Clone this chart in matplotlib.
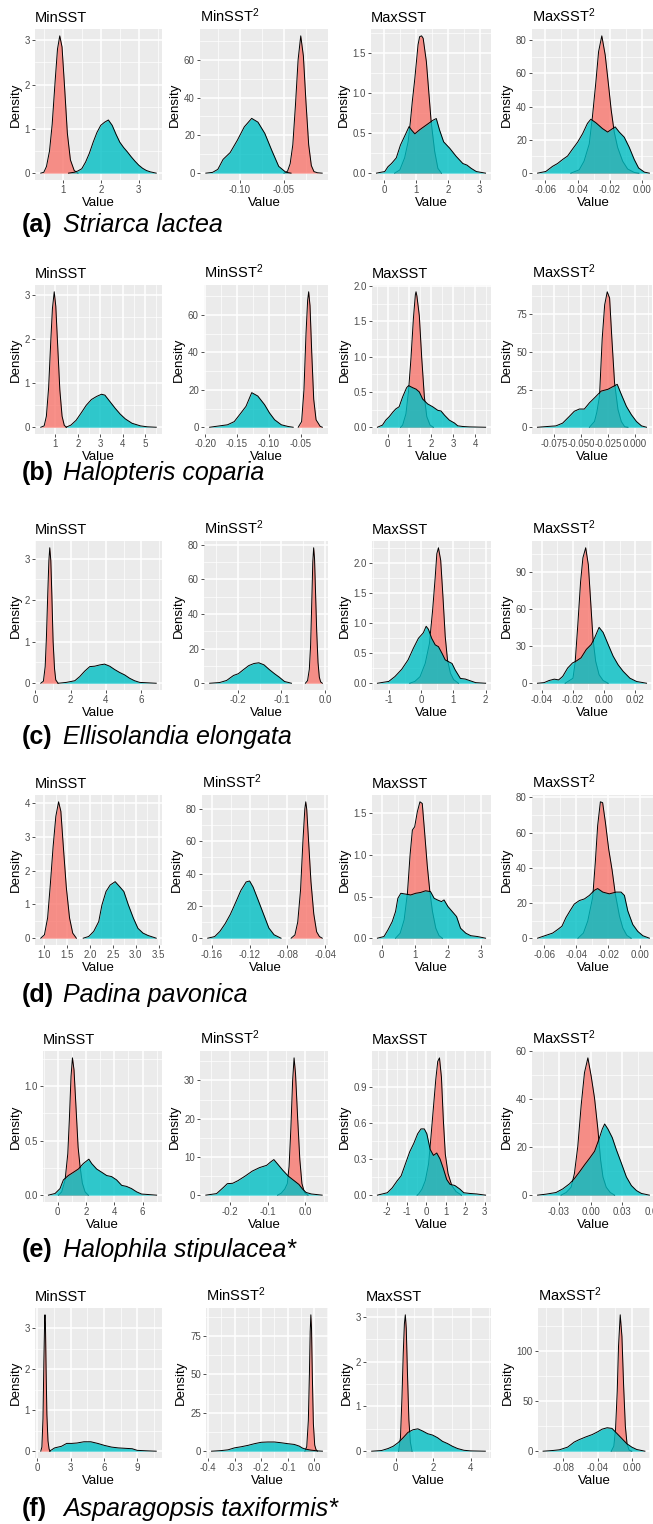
import matplotlib
matplotlib.use('Agg')
import matplotlib.pyplot as plt
from matplotlib.ticker import AutoMinorLocator

plt.rcParams['font.family'] = ['Liberation Sans', 'DejaVu Sans']
plt.rcParams['mathtext.default'] = 'regular'

#-----------------------------------------------------------------------------#
# data

LETTERS = ['a', 'b', 'c', 'd', 'e', 'f']
SPECIES = ['Striarca lactea', 'Halopteris coparia', 'Ellisolandia elongata',
           'Padina pavonica', 'Halophila stipulacea*', 'Asparagopsis taxiformis*']
VARIABLES = ['MinSST', 'MinSST$^{2}$', 'MaxSST', 'MaxSST$^{2}$']

# (a) Striarca lactea
XTICKS_A = [[1, 2, 3], [-0.10, -0.05], [0, 1, 2, 3], [-0.06, -0.04, -0.02, 0.00]]
YTICKS_A = [[0, 1, 2, 3], [0, 20, 40, 60], [0.0, 0.5, 1.0, 1.5], [0, 20, 40, 60, 80]]
RED_A = [
    [(0.42, 0), (0.50, 0.02), (0.57, 0.15), (0.65, 0.5), (0.72, 1.1), (0.80, 2.1),
     (0.86, 2.8), (0.92, 3.1), (0.98, 2.85), (1.05, 1.9), (1.12, 0.9), (1.20, 0.3),
     (1.30, 0.06), (1.40, 0)],
    [(-0.050, 0), (-0.046, 1), (-0.043, 5), (-0.040, 15), (-0.037, 36), (-0.034, 60),
     (-0.031, 72.7), (-0.028, 62), (-0.025, 37), (-0.022, 15), (-0.019, 4),
     (-0.016, 0.8), (-0.012, 0.2), (-0.0067, 0)],
    [(0.34, 0), (0.5, 0.04), (0.65, 0.19), (0.76, 0.39), (0.83, 0.64), (0.89, 0.89),
     (0.97, 1.18), (1.07, 1.6), (1.12, 1.70), (1.18, 1.71), (1.23, 1.68), (1.33, 1.39),
     (1.43, 0.89), (1.48, 0.64), (1.59, 0.27), (1.69, 0.06), (1.8, 0)],
    [(-0.0442, 0), (-0.039, 2), (-0.036, 7.2), (-0.0328, 17.5), (-0.0308, 34),
     (-0.0287, 54.6), (-0.027, 73), (-0.025, 82.5), (-0.0229, 71), (-0.0208, 52.6),
     (-0.0192, 38), (-0.0173, 24.7), (-0.0152, 15.5), (-0.0121, 7.2), (-0.009, 2.5),
     (-0.0049, 0.4), (-0.002, 0)],
]
CYAN_A = [
    [(1.15, 0), (1.3, 0.02), (1.4, 0.05), (1.5, 0.1), (1.6, 0.25), (1.7, 0.45),
     (1.8, 0.7), (1.9, 0.92), (2.0, 1.08), (2.1, 1.15), (2.2, 1.2), (2.3, 1.08),
     (2.4, 0.88), (2.5, 0.7), (2.6, 0.58), (2.7, 0.48), (2.8, 0.37), (2.9, 0.27),
     (3.0, 0.18), (3.1, 0.11), (3.2, 0.06), (3.3, 0.03), (3.46, 0)],
    [(-0.1386, 0), (-0.131, 0.4), (-0.125, 2), (-0.119, 7.3), (-0.111, 10.9),
     (-0.103, 17.3), (-0.095, 24.5), (-0.0866, 29), (-0.0795, 27), (-0.0717, 21),
     (-0.0638, 12), (-0.056, 3.6), (-0.048, 0.5), (-0.042, 0)],
    [(-0.23, 0), (0.03, 0.02), (0.13, 0.08), (0.24, 0.12), (0.39, 0.19), (0.52, 0.35),
     (0.65, 0.46), (0.79, 0.58), (0.86, 0.54), (0.97, 0.49), (1.12, 0.54), (1.33, 0.60),
     (1.54, 0.66), (1.64, 0.68), (1.74, 0.54), (1.87, 0.39), (2.06, 0.31), (2.26, 0.21),
     (2.47, 0.12), (2.6, 0.10), (2.73, 0.06), (2.89, 0.02), (3.18, 0)],
    [(-0.0648, 0), (-0.0597, 1), (-0.0555, 4.1), (-0.0524, 5.8), (-0.0493, 8.2),
     (-0.0462, 10.3), (-0.0432, 14.4), (-0.04, 18.6), (-0.0369, 23.7), (-0.0339, 29.9),
     (-0.0318, 32.4), (-0.0287, 30.3), (-0.0246, 26.8), (-0.0214, 24.7), (-0.0183, 26.8),
     (-0.0167, 27.8), (-0.0142, 24.7), (-0.0111, 21.6), (-0.008, 15.5), (-0.0049, 8.2),
     (-0.0022, 3.1), (0.0014, 0.6), (0.0045, 0)],
]

# (b) Halopteris coparia
XTICKS_B = [[1, 2, 3, 4, 5], [-0.20, -0.15, -0.10, -0.05], [0, 1, 2, 3, 4],
            [-0.075, -0.050, -0.025, 0.000]]
YTICKS_B = [[0, 1, 2, 3], [0, 20, 40, 60], [0.0, 0.5, 1.0, 1.5, 2.0], [0, 25, 50, 75]]
RED_B = [
    [(0.35, 0), (0.5, 0.03), (0.6, 0.25), (0.7, 0.9), (0.8, 2.0), (0.87, 2.7),
     (0.95, 3.08), (1.02, 2.75), (1.1, 1.9), (1.2, 0.85), (1.3, 0.25), (1.4, 0.04),
     (1.5, 0)],
    [(-0.0539, 0), (-0.0486, 3), (-0.0449, 20), (-0.0417, 50), (-0.0391, 68),
     (-0.0375, 72.5), (-0.0354, 65), (-0.0327, 40), (-0.0296, 15), (-0.0259, 4),
     (-0.0195, 0.5), (-0.016, 0)],
    [(0.6, 0), (0.69, 0.03), (0.84, 0.19), (0.96, 0.52), (1.07, 0.98), (1.18, 1.54),
     (1.27, 1.88), (1.30, 1.92), (1.34, 1.86), (1.45, 1.58), (1.56, 0.98), (1.68, 0.43),
     (1.79, 0.15), (1.94, 0.03), (2.09, 0)],
    [(-0.0422, 0), (-0.0375, 3.8), (-0.0353, 10), (-0.0328, 20.7), (-0.0303, 58.9),
     (-0.028, 81.3), (-0.0256, 90), (-0.0234, 85.8), (-0.0213, 58.9), (-0.0188, 29.6),
     (-0.0156, 11.7), (-0.0125, 3.8), (-0.0094, 0.4), (-0.0063, 0)],
]
CYAN_B = [
    [(1.48, 0), (1.7, 0.05), (1.93, 0.16), (2.16, 0.33), (2.38, 0.5), (2.61, 0.63),
     (2.84, 0.7), (3.06, 0.75), (3.21, 0.73), (3.44, 0.58), (3.67, 0.43), (3.89, 0.30),
     (4.12, 0.19), (4.42, 0.09), (4.8, 0.03), (5.1, 0.01), (5.5, 0)],
    [(-0.193, 0), (-0.165, 1.3), (-0.1544, 3), (-0.1439, 7.6), (-0.1359, 11.2),
     (-0.1269, 18.5), (-0.1174, 16.7), (-0.1068, 12.1), (-0.0989, 7.6), (-0.091, 4),
     (-0.0804, 1.3), (-0.0698, 0.4), (-0.0618, 0)],
    [(-0.46, 0), (-0.23, 0.03), (-0.08, 0.10), (0.08, 0.15), (0.26, 0.22), (0.38, 0.26),
     (0.53, 0.29), (0.69, 0.43), (0.87, 0.56), (0.96, 0.59), (1.15, 0.56), (1.3, 0.54),
     (1.45, 0.50), (1.6, 0.40), (1.83, 0.33), (2.06, 0.29), (2.29, 0.24), (2.44, 0.23),
     (2.6, 0.17), (2.82, 0.10), (3.05, 0.06), (3.2, 0.02), (3.44, 0.01), (3.74, 0.005),
     (4.47, 0)],
    [(-0.0906, 0), (-0.0734, 0.9), (-0.0672, 2.7), (-0.0609, 7.2), (-0.0563, 10.6),
     (-0.0516, 12.1), (-0.0469, 12.1), (-0.0422, 16.2), (-0.0375, 19.5), (-0.0313, 24),
     (-0.025, 25.2), (-0.0203, 27), (-0.0163, 28.5), (-0.0125, 21.8), (-0.0078, 13.9),
     (-0.0031, 8.3), (0.0016, 3.8), (0.0063, 0.9), (0.011, 0)],
]

# (c) Ellisolandia elongata
XTICKS_C = [[0, 2, 4, 6], [-0.2, -0.1, 0.0], [-1, 0, 1, 2], [-0.04, -0.02, 0.00, 0.02]]
YTICKS_C = [[0, 1, 2, 3], [0, 20, 40, 60, 80], [0.0, 0.5, 1.0, 1.5, 2.0], [0, 30, 60, 90]]
RED_C = [
    [(0.3, 0), (0.45, 0.05), (0.55, 0.4), (0.62, 1.1), (0.7, 2.2), (0.76, 2.95),
     (0.81, 3.26), (0.87, 2.95), (0.93, 2.1), (1.0, 1.0), (1.08, 0.35), (1.15, 0.08),
     (1.28, 0)],
    [(-0.045, 0), (-0.040, 1.5), (-0.036, 8), (-0.033, 22), (-0.030, 50), (-0.028, 70),
     (-0.026, 78.2), (-0.024, 72), (-0.022, 55), (-0.019, 30), (-0.016, 12),
     (-0.013, 3.5), (-0.010, 0.8), (-0.006, 0)],
    [(-0.35, 0), (-0.19, 0.03), (-0.03, 0.11), (0.13, 0.33), (0.26, 0.66), (0.36, 1.22),
     (0.44, 1.77), (0.49, 2.16), (0.54, 2.26), (0.61, 2.05), (0.68, 1.44), (0.75, 0.78),
     (0.82, 0.39), (0.91, 0.17), (1.01, 0.06), (1.16, 0)],
    [(-0.025, 0), (-0.02, 4), (-0.0186, 16.5), (-0.0169, 46.7), (-0.0151, 82),
     (-0.0136, 101.6), (-0.0118, 109.8), (-0.0101, 96), (-0.0086, 66), (-0.0071, 35.7),
     (-0.0054, 17.8), (-0.0032, 6.9), (-0.0006, 2.2), (0.0026, 0)],
]
CYAN_C = [
    [(1.28, 0), (1.75, 0.02), (2.23, 0.06), (2.51, 0.16), (2.79, 0.29), (3.08, 0.40),
     (3.36, 0.41), (3.64, 0.44), (3.92, 0.46), (4.21, 0.41), (4.49, 0.33), (4.77, 0.26),
     (5.06, 0.20), (5.34, 0.12), (5.62, 0.06), (5.91, 0.02), (6.85, 0)],
    [(-0.265, 0), (-0.242, 0.4), (-0.226, 1.6), (-0.21, 4.5), (-0.199, 5.5),
     (-0.187, 7.9), (-0.175, 10.2), (-0.163, 11.4), (-0.152, 11.8), (-0.14, 10.6),
     (-0.128, 7.9), (-0.116, 5.5), (-0.105, 3.5), (-0.093, 1), (-0.077, 0)],
    [(-1.35, 0), (-1.0, 0.03), (-0.81, 0.11), (-0.6, 0.23), (-0.4, 0.39), (-0.24, 0.58),
     (-0.08, 0.75), (0.07, 0.84), (0.16, 0.95), (0.23, 0.90), (0.33, 0.75), (0.44, 0.64),
     (0.54, 0.61), (0.65, 0.50), (0.75, 0.39), (0.85, 0.36), (0.96, 0.33), (1.06, 0.22),
     (1.22, 0.08), (1.37, 0.07), (1.53, 0.04), (1.69, 0.01), (2.0, 0)],
    [(-0.0428, 0), (-0.0385, 0.5), (-0.0353, 2.2), (-0.032, 3.3), (-0.0292, 2.7),
     (-0.0266, 5.5), (-0.0234, 12.3), (-0.0202, 16.5), (-0.0181, 17.8), (-0.0148, 20.6),
     (-0.0114, 27.4), (-0.0082, 31.5), (-0.006, 37), (-0.0032, 45.3), (-0.0006, 41.2),
     (0.0026, 31.5), (0.0058, 22), (0.009, 15), (0.0123, 9.6), (0.0166, 4.1),
     (0.0209, 1.4), (0.0273, 0)],
]

# (d) Padina pavonica
XTICKS_D = [[1.0, 1.5, 2.0, 2.5, 3.0, 3.5], [-0.16, -0.12, -0.08, -0.04], [0, 1, 2, 3],
            [-0.06, -0.04, -0.02, 0.00]]
YTICKS_D = [[0, 1, 2, 3, 4], [0, 20, 40, 60, 80], [0.0, 0.5, 1.0, 1.5], [0, 20, 40, 60, 80]]
RED_D = [
    [(0.92, 0), (1.0, 0.1), (1.07, 0.6), (1.13, 1.6), (1.19, 2.7), (1.25, 3.6),
     (1.31, 4.03), (1.36, 3.75), (1.42, 2.6), (1.48, 1.5), (1.55, 0.6), (1.62, 0.15),
     (1.7, 0)],
    [(-0.076, 0), (-0.072, 2), (-0.069, 10), (-0.066, 30), (-0.0635, 60), (-0.0615, 80),
     (-0.0605, 84.4), (-0.0595, 80), (-0.057, 55), (-0.055, 35), (-0.052, 15),
     (-0.049, 4), (-0.046, 1), (-0.043, 0)],
    [(0.42, 0), (0.56, 0.06), (0.68, 0.22), (0.78, 0.54), (0.86, 1.0), (0.93, 1.3),
     (1.0, 1.34), (1.08, 1.52), (1.16, 1.64), (1.23, 1.62), (1.3, 1.28), (1.38, 0.88),
     (1.46, 0.56), (1.54, 0.32), (1.64, 0.12), (1.74, 0.03), (1.84, 0)],
    [(-0.039, 0), (-0.0356, 2.9), (-0.0329, 9.7), (-0.0298, 23.3), (-0.0282, 42.7),
     (-0.0267, 64), (-0.025, 77.5), (-0.0236, 77), (-0.0219, 66), (-0.0198, 50.5),
     (-0.0177, 38.8), (-0.0157, 25.2), (-0.0131, 12.6), (-0.011, 5.8), (-0.0085, 1.6),
     (-0.0058, 0)],
]
CYAN_D = [
    [(1.85, 0), (1.97, 0.05), (2.08, 0.2), (2.19, 0.49), (2.26, 0.98), (2.35, 1.38),
     (2.44, 1.57), (2.55, 1.67), (2.65, 1.52), (2.74, 1.38), (2.84, 0.98), (2.95, 0.59),
     (3.05, 0.29), (3.16, 0.15), (3.27, 0.08), (3.45, 0)],
    [(-0.1644, 0), (-0.157, 1), (-0.1515, 4.2), (-0.146, 8.9), (-0.1404, 14.8),
     (-0.1348, 22.1), (-0.1293, 29.5), (-0.1237, 34.8), (-0.12, 35.4), (-0.1163, 31.6),
     (-0.1107, 23.2), (-0.1052, 14.8), (-0.0996, 6.3), (-0.0941, 2.1), (-0.0867, 0)],
    [(-0.13, 0), (0.07, 0.02), (0.19, 0.10), (0.32, 0.20), (0.42, 0.32), (0.49, 0.48),
     (0.58, 0.54), (0.73, 0.53), (0.88, 0.52), (1.03, 0.54), (1.18, 0.55), (1.33, 0.57),
     (1.48, 0.56), (1.59, 0.48), (1.69, 0.46), (1.81, 0.44), (1.89, 0.46), (2.01, 0.38),
     (2.14, 0.32), (2.27, 0.26), (2.39, 0.12), (2.55, 0.06), (2.7, 0.03), (2.9, 0.02),
     (3.15, 0)],
    [(-0.0642, 0), (-0.059, 1.6), (-0.0548, 2.9), (-0.0517, 4.9), (-0.049, 6.8),
     (-0.0465, 11.7), (-0.044, 15.5), (-0.0413, 19.4), (-0.0381, 21.4), (-0.035, 22.3),
     (-0.0319, 24.3), (-0.0288, 27.2), (-0.0267, 28.2), (-0.0235, 26.2), (-0.0194, 25.2),
     (-0.0152, 26.2), (-0.0121, 26.2), (-0.01, 24.3), (-0.0079, 15.5), (-0.0048, 7.8),
     (-0.0017, 3.9), (0.0015, 1.4), (0.0056, 0)],
]

# (e) Halophila stipulacea*
XTICKS_E = [[0, 2, 4, 6], [-0.2, -0.1, 0.0], [-2, -1, 0, 1, 2, 3], [-0.03, 0.00, 0.03, 0.06]]
YTICKS_E = [[0.0, 0.5, 1.0], [0, 10, 20, 30], [0.0, 0.3, 0.6, 0.9], [0, 20, 40, 60]]
RED_E = [
    [(0.05, 0), (0.28, 0.03), (0.52, 0.14), (0.71, 0.38), (0.82, 0.69), (0.94, 1.09),
     (1.04, 1.26), (1.15, 1.15), (1.29, 0.81), (1.44, 0.44), (1.58, 0.26), (1.74, 0.11),
     (1.93, 0.03), (2.16, 0)],
    [(-0.0735, 0), (-0.064, 0.5), (-0.0545, 1.6), (-0.0479, 3), (-0.0431, 7.5),
     (-0.0384, 17.4), (-0.0337, 30), (-0.0299, 35.9), (-0.0261, 31.8), (-0.0204, 20.1),
     (-0.0147, 9.3), (-0.0091, 3), (-0.0024, 0.7), (0.007, 0)],
    [(-0.47, 0), (-0.39, 0.01), (-0.22, 0.05), (-0.05, 0.12), (0.12, 0.26), (0.24, 0.48),
     (0.37, 0.73), (0.49, 0.96), (0.59, 1.11), (0.68, 1.14), (0.78, 0.98), (0.88, 0.62),
     (0.98, 0.34), (1.12, 0.18), (1.31, 0.08), (1.53, 0.03), (1.81, 0)],
    [(-0.0278, 0), (-0.023, 1.1), (-0.0183, 3.3), (-0.0152, 9), (-0.012, 20.4),
     (-0.0088, 37.6), (-0.0057, 51.1), (-0.0025, 57.3), (0.0006, 49.7), (0.0038, 40.4),
     (0.0069, 27.6), (0.0095, 14.7), (0.0117, 7.6), (0.0148, 3.3), (0.0186, 1.1),
     (0.0227, 0)],
]
CYAN_E = [
    [(-0.66, 0), (-0.19, 0.015), (0.16, 0.06), (0.4, 0.14), (0.75, 0.18), (1.11, 0.21),
     (1.46, 0.24), (1.81, 0.29), (2.2, 0.33), (2.4, 0.29), (2.75, 0.24), (3.11, 0.21),
     (3.46, 0.18), (3.81, 0.17), (4.16, 0.14), (4.52, 0.09), (4.87, 0.08), (5.22, 0.06),
     (5.58, 0.03), (5.93, 0.01), (6.99, 0)],
    [(-0.2635, 0), (-0.235, 0.4), (-0.216, 2.1), (-0.2066, 3), (-0.1924, 3.1),
     (-0.1782, 3.8), (-0.1592, 5), (-0.1403, 6.3), (-0.1213, 7.2), (-0.1024, 7.8),
     (-0.0929, 8.6), (-0.0834, 9.3), (-0.074, 8.2), (-0.0597, 6.5), (-0.0455, 5.0),
     (-0.0313, 3.9), (-0.0171, 2.8), (-0.0076, 1.6), (0.0019, 0.7), (0.016, 0.3),
     (0.0445, 0)],
    [(-2.51, 0), (-2.0, 0.02), (-1.75, 0.06), (-1.49, 0.12), (-1.29, 0.16), (-1.07, 0.26),
     (-0.85, 0.36), (-0.64, 0.43), (-0.44, 0.51), (-0.27, 0.55), (-0.1, 0.55),
     (0.03, 0.51), (0.2, 0.38), (0.37, 0.33), (0.54, 0.35), (0.71, 0.30), (0.88, 0.22),
     (1.05, 0.13), (1.22, 0.09), (1.47, 0.08), (1.73, 0.05), (1.93, 0.02), (2.24, 0.014),
     (2.58, 0.01), (3.05, 0)],
    [(-0.0499, 0), (-0.042, 0.4), (-0.0325, 1.1), (-0.0262, 2.6), (-0.0199, 4.7),
     (-0.0152, 6.9), (-0.0104, 9.7), (-0.0057, 12.6), (-0.0009, 15.4), (0.0038, 18.3),
     (0.0079, 23.3), (0.0111, 27.6), (0.0133, 29.7), (0.0164, 27.6), (0.0205, 24),
     (0.0243, 19), (0.0291, 13.3), (0.0338, 7.6), (0.0385, 4), (0.0433, 1.9),
     (0.048, 0.7), (0.0555, 0)],
]

# (f) Asparagopsis taxiformis*
XTICKS_F = [[0, 3, 6, 9], [-0.4, -0.3, -0.2, -0.1, 0.0], [0, 2, 4], [-0.08, -0.04, 0.00]]
YTICKS_F = [[0, 1, 2, 3], [0, 25, 50, 75], [0, 1, 2, 3], [0, 50, 100]]
RED_F = [
    [(0.3, 0), (0.4, 0.1), (0.5, 0.8), (0.58, 2.2), (0.65, 3.2), (0.68, 3.33),
     (0.72, 3.1), (0.78, 2.0), (0.85, 0.9), (0.95, 0.25), (1.05, 0.05), (1.15, 0)],
    [(-0.035, 0), (-0.028, 3), (-0.022, 20), (-0.018, 50), (-0.015, 78),
     (-0.0125, 88.9), (-0.01, 80), (-0.007, 50), (-0.003, 18), (0.002, 4),
     (0.007, 1), (0.0125, 0)],
    [(0.15, 0), (0.25, 0.3), (0.33, 1.2), (0.4, 2.2), (0.46, 2.85), (0.51, 3.05),
     (0.56, 2.75), (0.62, 1.8), (0.7, 0.7), (0.78, 0.2), (0.87, 0)],
    [(-0.024, 0), (-0.021, 5), (-0.019, 22), (-0.017, 60), (-0.0155, 105),
     (-0.0135, 136.7), (-0.0115, 115), (-0.0095, 65), (-0.0075, 25), (-0.0055, 7),
     (-0.003, 1), (0.0, 0)],
]
CYAN_F = [
    [(1.09, 0), (1.55, 0.08), (2.17, 0.12), (2.64, 0.19), (3.1, 0.19), (3.57, 0.2),
     (4.19, 0.23), (4.81, 0.23), (5.43, 0.19), (6.06, 0.14), (6.68, 0.1), (7.3, 0.08),
     (7.92, 0.07), (8.54, 0.06), (9.0, 0.02), (9.78, 0.01), (10.71, 0)],
    [(-0.3875, 0), (-0.35, 0.4), (-0.325, 0.9), (-0.3, 2.2), (-0.275, 2.9), (-0.25, 3.8),
     (-0.225, 4.9), (-0.2, 5.8), (-0.175, 6), (-0.15, 6), (-0.125, 5.5), (-0.1, 4.9),
     (-0.075, 4.4), (-0.0563, 3.3), (-0.0438, 2), (-0.0313, 1.3), (-0.0125, 0.7),
     (0.0125, 0.2), (0.0313, 0)],
    [(-1.29, 0), (-0.76, 0.015), (-0.41, 0.06), (-0.14, 0.11), (0.12, 0.19), (0.39, 0.30),
     (0.65, 0.42), (0.92, 0.48), (1.18, 0.50), (1.44, 0.45), (1.71, 0.39), (1.97, 0.36),
     (2.24, 0.30), (2.5, 0.22), (2.77, 0.17), (3.03, 0.11), (3.3, 0.06), (3.65, 0.02),
     (4.0, 0.007), (4.79, 0)],
    [(-0.1038, 0), (-0.0923, 0.7), (-0.0846, 1.4), (-0.075, 4.1), (-0.0673, 9.2),
     (-0.0615, 11.6), (-0.0538, 14.3), (-0.0462, 16.7), (-0.04, 19.4), (-0.0346, 22.1),
     (-0.0288, 23.5), (-0.0231, 22.8), (-0.0173, 17.7), (-0.0115, 12.6), (-0.0058, 7.5),
     (0.0, 4.1), (0.0058, 1.7), (0.0154, 0)],
]

XTICKS = [XTICKS_A, XTICKS_B, XTICKS_C, XTICKS_D, XTICKS_E, XTICKS_F]
YTICKS = [YTICKS_A, YTICKS_B, YTICKS_C, YTICKS_D, YTICKS_E, YTICKS_F]
RED = [RED_A, RED_B, RED_C, RED_D, RED_E, RED_F]
CYAN = [CYAN_A, CYAN_B, CYAN_C, CYAN_D, CYAN_E, CYAN_F]

#-----------------------------------------------------------------------------#
# layout (pixels)

W, H = 653, 1524
ROW_TOP = [29, 285, 541, 795, 1051, 1308]
ROW_BOTTOM = [180, 434, 690, 945, 1202, 1458]
PANEL_X = [
    [(35, 162), (200, 328), (371, 491), (532, 655)],
    [(35, 162), (204, 328), (372, 491), (532, 652)],
    [(35, 162), (204, 328), (372, 491), (532, 652)],
    [(35, 162), (202, 328), (372, 491), (532, 655)],
    [(43, 162), (200, 328), (372, 491), (532, 655)],
    [(35, 162), (206, 328), (366, 491), (538, 650)],
]
LABEL_Y = [225, 473, 737, 995, 1250, 1509]

RED_COL = '#F8766D'
CYAN_COL = '#00BFC4'


def fmt_ticks(ticks):
    '''Same number of decimals for every label, like R does.'''
    for d in range(5):
        if all(abs(round(t, d) - t) < 1e-9 for t in ticks):
            break
    return ['%.*f' % (d, t) for t in ticks]


def draw_panel(ax, red, cyan, xticks, yticks, title):
    ax.set_facecolor('#EBEBEB')
    for pts, col, z in ((red, RED_COL, 2), (cyan, CYAN_COL, 4)):
        xs = [p[0] for p in pts]
        ys = [p[1] for p in pts]
        ax.fill_between(xs, ys, color=col, alpha=0.8, lw=0, zorder=z)
        ax.plot(xs, ys, color='black', lw=0.7, zorder=z + 0.5)

    # ggplot-like 5% expansion of the data range
    allx = [p[0] for p in red + cyan]
    ymax = max(p[1] for p in red + cyan)
    dx = 0.05 * (max(allx) - min(allx))

    ax.set_xticks(xticks)
    ax.set_xticklabels(fmt_ticks(xticks))
    ax.set_yticks(yticks)
    ax.set_yticklabels(fmt_ticks(yticks))
    ax.set_xlim(min(allx) - dx, max(allx) + dx)
    ax.set_ylim(-0.05 * ymax, 1.05 * ymax)

    ax.xaxis.set_minor_locator(AutoMinorLocator(2))
    ax.yaxis.set_minor_locator(AutoMinorLocator(2))
    ax.set_axisbelow(True)
    ax.grid(which='major', color='white', lw=1.1)
    ax.grid(which='minor', color='white', lw=0.5)
    for s in ax.spines.values():
        s.set_visible(False)
    ax.tick_params(which='major', length=2.2, width=0.6, color='#333333',
                   labelsize=7, labelcolor='#4D4D4D', pad=1.5)
    ax.tick_params(which='minor', length=0)

    ax.set_xlabel('Value', fontsize=9.5, labelpad=1)
    ax.set_ylabel('Density', fontsize=9.5, labelpad=2)
    ax.set_title(title, loc='left', fontsize=10.5, pad=5)


fig = plt.figure(figsize=(W / 100, H / 100), dpi=100)

for r in range(6):
    top, bottom = ROW_TOP[r], ROW_BOTTOM[r]
    for c in range(4):
        x0, x1 = PANEL_X[r][c]
        ax = fig.add_axes([x0 / W, 1 - bottom / H, (x1 - x0) / W, (bottom - top) / H])
        draw_panel(ax, RED[r][c], CYAN[r][c], XTICKS[r][c], YTICKS[r][c], VARIABLES[c])
    y = 1 - LABEL_Y[r] / H
    fig.text(22 / W, y, '(%s)' % LETTERS[r], fontsize=18, fontweight='bold', va='center')
    fig.text(63 / W, y, SPECIES[r], fontsize=18, style='italic', va='center')

fig.savefig('out.png', dpi=100)
